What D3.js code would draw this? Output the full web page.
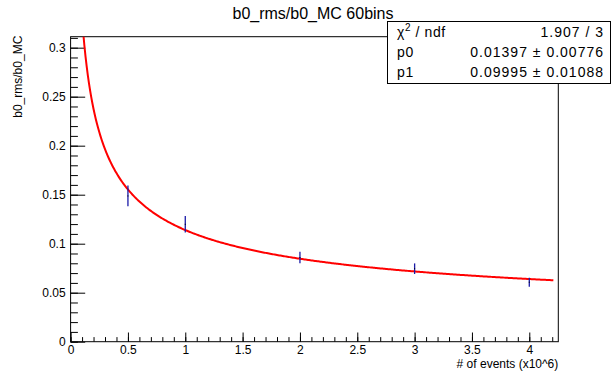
<!DOCTYPE html>
<html>
<head>
<meta charset="utf-8">
<script src="https://cdn.jsdelivr.net/npm/d3@7/dist/d3.min.js"></script>
<style>
    html, body { margin: 0; padding: 0; background: #fff; }
    svg { display: block; font-family: "Liberation Sans", Arial, sans-serif; }
</style>
</head>
<body>
<div id="chart"></div>
<script>
// data
const nEvents = [0.5, 1, 2, 3, 4];                       // x10^6
const ratio = [0.1487, 0.1198, 0.0859, 0.0745, 0.0607];  // b0_rms/b0_MC
const ratioErr = [0.0106, 0.0085, 0.0059, 0.0054, 0.0046];

// fit result shown in the stats box: p0 + p1/sqrt(x)
const fitP0 = 0.01397;
const fitP1 = 0.09995;
const statLabels = ['χ', 'p0', 'p1'];
const statValues = ['1.907 / 3', '0.01397 ± 0.00776', '0.09995 ± 0.01088'];

const xTicks = [0, 0.5, 1, 1.5, 2, 2.5, 3, 3.5, 4];
const yTicks = [0, 0.05, 0.1, 0.15, 0.2, 0.25, 0.3];

const width = 613, height = 375;
const frame = { left: 70.6, right: 558.3, top: 36.7, bottom: 341.7 };

const svg = d3.select('#chart')
    .append('svg')
    .attr('width', width)
    .attr('height', height);

const x = d3.scaleLinear().domain([0, 4.253]).range([frame.left, frame.right]);
const y = d3.scaleLinear().domain([0, 0.3112]).range([frame.bottom, frame.top]);

// clip for the fit curve
svg.append('defs').append('clipPath')
    .attr('id', 'frame-clip')
    .append('rect')
    .attr('x', frame.left)
    .attr('y', frame.top)
    .attr('width', frame.right - frame.left)
    .attr('height', frame.bottom - frame.top);

// minor ticks
svg.append('g')
    .attr('transform', `translate(0,${frame.bottom})`)
    .call(d3.axisBottom(x).tickValues(d3.range(0, 4.25, 0.1)).tickSize(-4.6).tickFormat(''))
    .call(g => g.select('.domain').remove());

svg.append('g')
    .attr('transform', `translate(${frame.left},0)`)
    .call(d3.axisLeft(y).tickValues(d3.range(0, 0.311, 0.01)).tickSize(-7.3).tickFormat(''))
    .call(g => g.select('.domain').remove());

// major ticks + labels
const xAxis = svg.append('g')
    .attr('transform', `translate(0,${frame.bottom})`)
    .call(d3.axisBottom(x).tickValues(xTicks).tickSize(-9.2).tickPadding(4).tickFormat(d3.format('~g')));

const yAxis = svg.append('g')
    .attr('transform', `translate(${frame.left},0)`)
    .call(d3.axisLeft(y).tickValues(yTicks).tickSize(-14.6).tickPadding(5).tickFormat(d3.format('~g')));

[xAxis, yAxis].forEach(g => {
    g.select('.domain').remove();
    g.selectAll('text').style('font-size', '12px').attr('fill', '#000');
});
svg.selectAll('.tick line').attr('stroke', '#000');

// frame
svg.append('rect')
    .attr('x', frame.left)
    .attr('y', frame.top)
    .attr('width', frame.right - frame.left)
    .attr('height', frame.bottom - frame.top)
    .attr('fill', 'none')
    .attr('stroke', '#000')
    .attr('stroke-width', 1);

// fit curve
const curveX = d3.range(0.1, 4.215, 0.01);
const fitLine = d3.line()
    .x(d => x(d))
    .y(d => y(fitP0 + fitP1 / Math.sqrt(d)));

svg.append('path')
    .datum(curveX)
    .attr('clip-path', 'url(#frame-clip)')
    .attr('d', fitLine)
    .attr('fill', 'none')
    .attr('stroke', '#ff0000')
    .attr('stroke-width', 2);

// error bars
const pts = nEvents.map((v, i) => ({ x: v, y: ratio[i], e: ratioErr[i] }));

svg.append('g')
    .selectAll('line')
    .data(pts)
    .join('line')
    .attr('x1', d => x(d.x))
    .attr('x2', d => x(d.x))
    .attr('y1', d => y(d.y - d.e))
    .attr('y2', d => y(d.y + d.e))
    .attr('stroke', '#1a1aa8')
    .attr('stroke-width', 1.3);

svg.append('g')
    .selectAll('rect')
    .data(pts)
    .join('rect')
    .attr('x', d => x(d.x) - 0.5)
    .attr('y', d => y(d.y) - 0.5)
    .attr('width', 1)
    .attr('height', 1)
    .attr('fill', '#000');

// titles
svg.append('text')
    .attr('x', 313)
    .attr('y', 19)
    .attr('text-anchor', 'middle')
    .style('font-size', '16px')
    .text('b0_rms/b0_MC 60bins');

svg.append('text')
    .attr('x', frame.right)
    .attr('y', 367.5)
    .attr('text-anchor', 'end')
    .style('font-size', '12px')
    .text('# of events (x10^6)');

svg.append('text')
    .attr('transform', `translate(21.5,${frame.top - 1}) rotate(-90)`)
    .attr('text-anchor', 'end')
    .style('font-size', '12px')
    .text('b0_rms/b0_MC');

// stats box
const box = svg.append('g');
box.append('rect')
    .attr('x', 387.5)
    .attr('y', 21.5)
    .attr('width', 223)
    .attr('height', 62)
    .attr('fill', '#fff')
    .attr('stroke', '#000')
    .attr('stroke-width', 1);

const rowY = d3.scalePoint().domain(d3.range(statLabels.length)).range([37.3, 77]);

const labels = box.selectAll('text.lab')
    .data(statLabels)
    .join('text')
    .attr('class', 'lab')
    .attr('x', 397)
    .attr('y', (d, i) => rowY(i))
    .style('font-size', '14px')
    .style('letter-spacing', '0.6px')
    .text(d => d);

// chi2 / ndf with a raised 2
const chiLabel = labels.filter((d, i) => i === 0);
chiLabel.append('tspan')
    .attr('dy', -6)
    .style('font-size', '10px')
    .text('2');
chiLabel.append('tspan')
    .attr('dy', 6)
    .text(' / ndf');

box.selectAll('text.val')
    .data(statValues)
    .join('text')
    .attr('class', 'val')
    .attr('x', 604)
    .attr('y', (d, i) => rowY(i))
    .attr('text-anchor', 'end')
    .style('font-size', '14px')
    .style('letter-spacing', '1px')
    .text(d => d);
</script>
</body>
</html>
